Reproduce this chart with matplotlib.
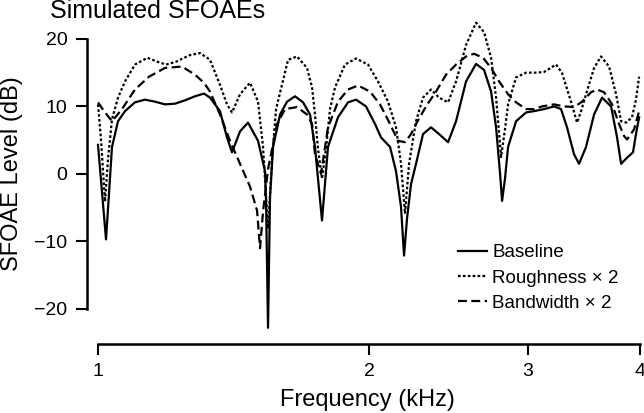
import matplotlib
matplotlib.use("Agg")
import matplotlib.pyplot as plt
from matplotlib.ticker import FixedLocator, NullLocator, FixedFormatter

plt.rcParams['font.family'] = ['Liberation Sans', 'DejaVu Sans']

# Baseline (solid)
base_f = [1.000, 1.0207, 1.0365, 1.0525, 1.0715, 1.0992, 1.1277, 1.1569, 1.1870, 1.2178,
          1.2492, 1.2816, 1.3114, 1.3317, 1.3662, 1.3909, 1.4088, 1.4380, 1.4677, 1.5058,
          1.5330, 1.5368, 1.5448, 1.5527, 1.5648, 1.5931, 1.6219, 1.6552, 1.6895, 1.7200,
          1.7419, 1.7735, 1.8009, 1.8476, 1.8955, 1.9347, 1.9846, 2.0310, 2.0625, 2.1105,
          2.1431, 2.1707, 2.1875, 2.2043, 2.2271, 2.2556, 2.2963, 2.3439, 2.3924, 2.4483,
          2.4988, 2.5634, 2.6299, 2.6844, 2.7330, 2.7681, 2.7967, 2.8110, 2.8320, 2.8544,
          2.9134, 2.9887, 3.0506, 3.1296, 3.2106, 3.2686, 3.3190, 3.3791, 3.4226, 3.4844,
          3.5566, 3.6300, 3.7148, 3.7722, 3.8111, 3.8699, 3.9290, 3.9590, 3.9911]
base_db = [4.3, -9.7, 4.0, 7.8, 9.3, 10.6, 11.0, 10.7, 10.3, 10.4,
           10.9, 11.5, 11.9, 11.3, 9.3, 5.4, 3.2, 6.3, 7.6, 4.9,
           0.4, -3.7, -22.8, -3.5, 4.0, 8.8, 10.7, 11.5, 10.6, 8.8,
           4.0, -6.9, 4.0, 8.4, 10.6, 11.0, 10.0, 7.4, 5.4, 4.0,
           0.4, -4.9, -12.1, -6.6, -1.5, 1.5, 5.9, 6.9, 5.9, 4.7,
           7.8, 13.7, 16.3, 15.4, 12.2, 6.9, 0.0, -4.0, -0.7, 4.0,
           7.8, 9.1, 9.3, 9.6, 10.0, 9.6, 6.9, 2.9, 1.5, 4.0,
           8.8, 11.3, 10.0, 5.4, 1.5, 2.4, 3.2, 5.9, 8.4]

# Roughness x 2 (dotted)
rough_f = [1.000, 1.0077, 1.0181, 1.0259, 1.0365, 1.0525, 1.0715, 1.0992, 1.1350, 1.1650,
           1.1900, 1.2200, 1.2650, 1.2981, 1.3317, 1.3662, 1.3909, 1.4088, 1.4380, 1.4753,
           1.5058, 1.5252, 1.5448, 1.5608, 1.5768, 1.6260, 1.6637, 1.7068, 1.7289, 1.7419,
           1.7554, 1.7735, 1.7917, 1.8102, 1.8334, 1.8810, 1.9347, 1.9949, 2.0467, 2.0997,
           2.1431, 2.1707, 2.1930, 2.2157, 2.2384, 2.2556, 2.2963, 2.3439, 2.3924, 2.4483,
           2.4988, 2.5634, 2.6299, 2.6844, 2.7330, 2.7681, 2.8038, 2.8320, 2.8544, 2.9134,
           2.9887, 3.0739, 3.1296, 3.2270, 3.2756, 3.3532, 3.4051, 3.4403, 3.4844, 3.5566,
           3.6208, 3.6958, 3.7625, 3.8111, 3.8603, 3.9196, 3.9590, 3.9911]
rough_db = [10.3, 5.1, -4.1, 2.2, 8.1, 11.3, 13.7, 16.2, 17.2, 16.6,
            16.2, 16.6, 17.6, 17.9, 16.9, 13.2, 10.3, 9.1, 11.8, 13.5,
            10.7, 4.0, -8.1, 2.2, 9.6, 16.9, 17.4, 15.7, 12.8, 8.8,
            3.7, -0.7, 3.7, 9.6, 12.8, 16.2, 17.1, 16.2, 13.7, 10.7,
            6.9, 1.5, -5.9, 1.5, 5.1, 7.8, 11.3, 12.5, 11.3, 10.6,
            13.7, 19.1, 22.4, 21.0, 17.2, 11.3, 2.5, 6.6, 10.3, 14.3,
            15.0, 15.0, 15.1, 16.2, 15.0, 10.7, 7.6, 9.3, 11.8, 15.7,
            17.4, 15.9, 11.8, 7.8, 7.6, 8.4, 11.0, 14.4]

# Bandwidth x 2 (dashed)
band_f = [1.000, 1.0155, 1.0365, 1.0633, 1.0992, 1.1394, 1.1870, 1.2397, 1.2816, 1.3114,
          1.3317, 1.3662, 1.4016, 1.4380, 1.4753, 1.5019, 1.5135, 1.5252, 1.5448, 1.5808,
          1.6136, 1.6637, 1.7068, 1.7289, 1.7419, 1.7690, 1.8009, 1.8476, 1.8955, 1.9446,
          2.0051, 2.0572, 2.1105, 2.1541, 2.1930, 2.2271, 2.2556, 2.3140, 2.3740, 2.4357,
          2.4988, 2.5634, 2.6165, 2.6775, 2.7330, 2.7895, 2.8544, 2.9134, 2.9887, 3.0506,
          3.1136, 3.2106, 3.2937, 3.3791, 3.4491, 3.5293, 3.5839, 3.6488, 3.7243, 3.7916,
          3.8405, 3.8699, 3.9397, 3.9911]
band_db = [10.6, 9.3, 7.8, 9.6, 12.5, 14.4, 15.7, 15.9, 14.7, 13.5,
           12.2, 8.8, 4.9, 1.5, -1.9, -5.4, -11.0, -5.6, 0.7, 7.4,
           9.6, 9.9, 8.8, 7.4, 2.9, 0.0, 6.9, 10.7, 12.5, 13.1,
           12.2, 10.3, 7.4, 4.9, 4.7, 5.9, 7.4, 10.0, 12.2, 14.7,
           16.2, 17.4, 17.8, 17.2, 15.7, 13.7, 11.8, 10.6, 9.6, 9.6,
           10.0, 10.3, 10.0, 9.9, 10.7, 12.1, 12.5, 12.1, 10.3, 7.4,
           5.6, 5.1, 6.6, 9.3]

fig = plt.figure(figsize=(6.44, 4.13), dpi=100)
ax = fig.add_axes([98 / 644, 1 - 344 / 413, 542 / 644, 324 / 413])

ax.plot(base_f, base_db, color='black', lw=1.6, label='Baseline', clip_on=False)
ax.plot(rough_f, rough_db, color='black', lw=1.6, ls=(0, (1.2, 1.0)),
        label='Roughness × 2', clip_on=False)
ax.plot(band_f, band_db, color='black', lw=1.6, ls=(0, (4.0, 2.0)),
        label='Bandwidth × 2', clip_on=False)

ax.set_xscale('log')
ax.set_xlim(1, 4)
ax.set_ylim(-25.2, 22.8)
ax.xaxis.set_major_locator(FixedLocator([1, 2, 3, 4]))
ax.xaxis.set_major_formatter(FixedFormatter(['1', '2', '3', '4']))
ax.xaxis.set_minor_locator(NullLocator())
ax.set_yticks([-20, -10, 0, 10, 20])
ax.set_yticklabels(['\u221220', '\u221210', '0', '10', '20'])

for s in ['top', 'right']:
    ax.spines[s].set_visible(False)
ax.spines['left'].set_position(('outward', 8))
ax.spines['left'].set_bounds(-20, 20)
ax.spines['bottom'].set_bounds(1, 4)
for s in ['left', 'bottom']:
    ax.spines[s].set_linewidth(1.8)
ax.tick_params(axis='both', length=8, width=1.5, labelsize=14, pad=6)

ax.set_xlabel('Frequency (kHz)', fontsize=17, va='baseline')
ax.set_ylabel('SFOAE Level (dB)', fontsize=17)
ax.xaxis.set_label_coords(0.497, -0.192)
ax.yaxis.set_label_coords(-0.138, 0.525)

fig.text(50 / 644, 1 - 18 / 413, 'Simulated SFOAEs', fontsize=18,
         ha='left', va='baseline')

ax.legend(loc='center left', bbox_to_anchor=(458 / 644, 1 - 278 / 413),
          bbox_transform=fig.transFigure, frameon=False, fontsize=13.5,
          handlelength=1.55, handletextpad=0.27, labelspacing=0.44,
          borderpad=0, borderaxespad=0)

fig.savefig('out.png', dpi=100)
